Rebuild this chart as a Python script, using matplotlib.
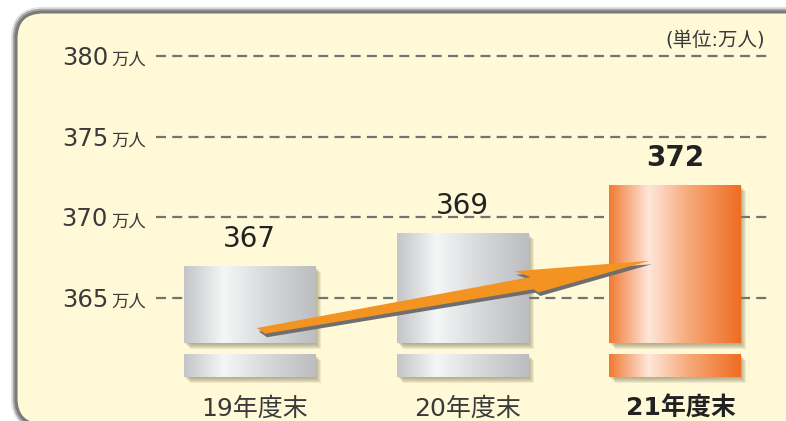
import numpy as np
import matplotlib
matplotlib.use('Agg')
import matplotlib.pyplot as plt
from matplotlib.patches import Rectangle, FancyBboxPatch, Polygon
from matplotlib.colors import LinearSegmentedColormap
from matplotlib.transforms import IdentityTransform
import matplotlib.patheffects as pe

# データ
categories = ['19年度末', '20年度末', '21年度末']
values = [367, 369, 372]
yticks = [365, 370, 375, 380]
unit_label = '(単位:万人)'
tick_unit = '万人'

plt.rcParams['font.family'] = ['DejaVu Sans', 'Noto Sans CJK JP']

W, H = 786, 421
fig = plt.figure(figsize=(W / 100, H / 100), dpi=100)
fig.patch.set_facecolor('white')

cream = '#fff9d7'

# 角丸の枠 (axes の下に描く)
for pad, col, lw in [(3, '#e2e2e2', 3), (1.5, '#a8a8a8', 2.5)]:
    fig.patches.append(FancyBboxPatch((16 - pad, H - 425 - pad), 820 + 2 * pad, 413 + 2 * pad,
                                      boxstyle='round,pad=0,rounding_size=%d' % (27 + pad),
                                      fc='none', ec=col, lw=lw, transform=IdentityTransform(),
                                      figure=fig, zorder=-2))
fig.patches.append(FancyBboxPatch((16, H - 425), 820, 413,
                                  boxstyle='round,pad=0,rounding_size=27',
                                  fc=cream, ec='#7a7a7a', lw=2.2,
                                  transform=IdentityTransform(), figure=fig, zorder=-1))

ax = fig.add_axes([156 / W, (H - 400) / H, (768 - 156) / W, 370 / H])
ax.set_xlim(-0.4395, 2.437)
ax.set_ylim(358.68, 381.61)
ax.axis('off')

# 目盛り線とラベル
for t in yticks:
    ax.axhline(t, color='#737373', lw=1.6, dashes=(4.5, 2.8), zorder=1)
    ax.annotate(tick_unit, xy=(146, t), xycoords=('figure pixels', 'data'),
                xytext=(0, -9 * 0.72), textcoords='offset points', ha='right', va='baseline',
                fontsize=12.5, color='#3a3a3a', annotation_clip=False)
    ax.annotate(str(t), xy=(108, t), xycoords=('figure pixels', 'data'),
                xytext=(0, -9 * 0.72), textcoords='offset points', ha='right', va='baseline',
                fontsize=17.5, color='#3a3a3a', annotation_clip=False)

silver = LinearSegmentedColormap.from_list('silver', [(0, '#c4c5c8'), (0.3, '#f5f6f6'),
                                                      (0.6, '#dadbdd'), (1, '#bcbdc0')])
orange = LinearSegmentedColormap.from_list('orange', [(0, '#f07a33'), (0.3, '#fee7da'),
                                                      (0.62, '#f6a676'), (1, '#ef6d22')])
grad = np.linspace(0, 1, 256).reshape(1, -1)

bw = 0.616
body_bottom = 362.2
base_bottom, base_top = 360.1, 361.53

shadow = [pe.SimplePatchShadow(offset=(0.7 * k, -0.7 * k), shadow_rgbFace='#878263', alpha=0.14)
          for k in range(1, 7)] + [pe.Normal()]

for i, v in enumerate(values):
    cmap = orange if i == 2 else silver
    for y0, y1 in [(body_bottom, v), (base_bottom, base_top)]:
        r = Rectangle((i - bw / 2, y0), bw, y1 - y0, fc='#d0d0d0', ec='none', zorder=2,
                      path_effects=shadow)
        ax.add_patch(r)
        im = ax.imshow(grad, cmap=cmap, extent=(i - bw / 2, i + bw / 2, y0, y1),
                       aspect='auto', zorder=3, interpolation='bilinear')
        im.set_clip_path(r)
    bold = 'bold' if i == 2 else 'normal'
    ax.annotate(str(v), xy=(i, v), xytext=(0, 19 * 0.72), textcoords='offset points',
                ha='center', va='baseline', fontsize=20, fontweight=bold, color='#222222')
    ax.annotate(categories[i], xy=(i, 358.68), xytext=(4, -16 * 0.72), textcoords='offset points',
                ha='center', va='baseline', fontsize=18, fontweight=bold,
                color='#222222' if i == 2 else '#3a3a3a', annotation_clip=False)

ax.set_xlim(-0.4395, 2.437)
ax.set_ylim(358.68, 381.61)

# 矢印 (19年度末 -> 21年度末)
start = np.array(ax.transData.transform((0.035, 363.14)))
tip = np.array(ax.transData.transform((1.88, 367.31)))
L = np.hypot(*(tip - start))
u = (tip - start) / L
n = np.array([u[1], -u[0]])
shape = [(0, 0), (L - 120, -4), (L - 135, -12.5), (L, 0), (L - 115, 12.5),
         (L - 119, 8.5), (7, 7)]
pts = np.array([start + s * u + t * n for s, t in shape])
ax.add_patch(Polygon(pts + np.array([2, -3.5]), closed=True, fc='#6e6e6e', ec='none',
                     transform=IdentityTransform(), zorder=5))
ax.add_patch(Polygon(pts, closed=True, fc='#f39322', ec='none',
                     transform=IdentityTransform(), zorder=6))

fig.text(765 / W, (H - 46) / H, unit_label, ha='right', va='baseline', fontsize=14,
         color='#3a3a3a')

fig.savefig('out.png', dpi=100, facecolor=fig.get_facecolor())
